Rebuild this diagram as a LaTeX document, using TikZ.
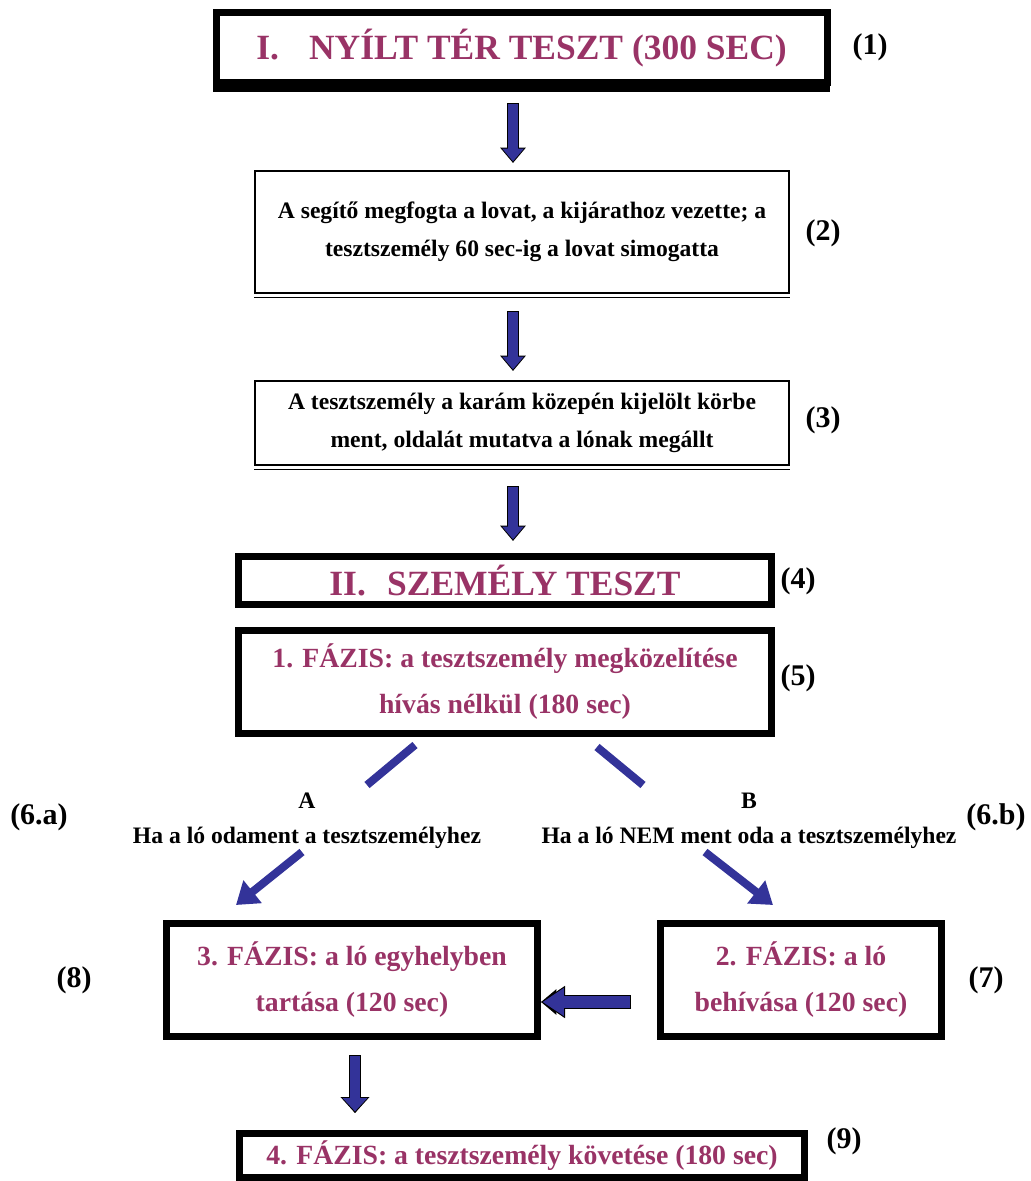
\documentclass[tikz,border=0pt]{standalone}
\usepackage{fontspec}
\setmainfont{Liberation Serif}
\usetikzlibrary{arrows.meta}
\definecolor{maroon}{HTML}{993366}
\definecolor{ablue}{HTML}{333399}
\begin{document}
\begin{tikzpicture}[x=0.75pt,y=-0.75pt,
  thickbox/.style={draw, line width=5.25pt, fill=white, inner sep=0pt, outer sep=0pt, align=center},
  thinbox/.style={draw, line width=1.2pt, fill=white, inner sep=0pt, outer sep=0pt, align=center},
  ttl/.style={font=\fontsize{26.6}{32}\selectfont\bfseries, text=maroon},
  phase/.style={font=\fontsize{20.8}{34.5}\selectfont\bfseries, text=maroon},
  body/.style={font=\fontsize{17.7}{28.9}\selectfont\bfseries},
  lab/.style={font=\fontsize{22.5}{27}\selectfont\bfseries, inner sep=0pt},
  blockarr/.style={ablue, line width=7pt, shorten <=0.8pt, shorten >=1.2pt,
    -{Triangle[length=9.5pt,width=15.5pt]},
    preaction={draw=black, line width=8.6pt, shorten <=0pt, shorten >=0pt,
      -{Triangle[length=11.5pt,width=18.5pt]}}},
  diag/.style={ablue, line width=6pt},
  diagarr/.style={ablue, line width=6pt, -{Triangle[length=16pt,width=21pt]}}
]
\useasboundingbox (0,0) rectangle (1031,1181);

% boxes
\node[thickbox, ttl, minimum width=458.25pt, minimum height=52.5pt] (b1) at (521.5,48)
  {I.\hspace{0.85em}NYÍLT TÉR TESZT (300 SEC)};
\fill ([xshift=-2.25pt]b1.south west) rectangle ([xshift=2.25pt,yshift=-6.75pt]b1.south east);

\node[thinbox, body, minimum width=400.5pt, minimum height=91.5pt] (b2) at (522,232)
  {A segítő megfogta a lovat, a kijárathoz vezette; a\\tesztszemély 60 sec-ig a lovat simogatta};
\draw[line width=1.2pt] ([xshift=-0.6pt,yshift=-3.4pt]b2.south west) -- ([xshift=0.6pt,yshift=-3.4pt]b2.south east);

\node[thinbox, body, minimum width=400.5pt, minimum height=63pt] (b3) at (522,423)
  {A tesztszemély a karám közepén kijelölt körbe\\ment, oldalát mutatva a lónak megállt};
\draw[line width=1.2pt] ([xshift=-0.6pt,yshift=-3.4pt]b3.south west) -- ([xshift=0.6pt,yshift=-3.4pt]b3.south east);

\node[thickbox, ttl, minimum width=399.75pt, minimum height=36pt] (b4) at (505,580.5)
  {II.\hspace{0.6em}SZEMÉLY TESZT};

\node[thickbox, phase, minimum width=399.75pt, minimum height=77.25pt] (b5) at (505,682)
  {1. FÁZIS: a tesztszemély megközelítése\\hívás nélkül (180 sec)};

\node[thickbox, phase, minimum width=278.25pt, minimum height=84.75pt] (b8) at (352,980)
  {3. FÁZIS: a ló egyhelyben\\tartása (120 sec)};

\node[thickbox, phase, minimum width=210.75pt, minimum height=84.75pt] (b7) at (801,980)
  {2. FÁZIS: a ló\\behívása (120 sec)};

\node[thickbox, phase, minimum width=423.75pt, minimum height=33pt] (b9) at (522,1155.5)
  {4. FÁZIS: a tesztszemély követése (180 sec)};

% side labels
\node[lab] (l1) at (870,47) {(1)};
\node[lab] (l2) at (823,233) {(2)};
\node[lab] (l3) at (823,420) {(3)};
\node[lab] (l4) at (798,581) {(4)};
\node[lab] (l5) at (798,678) {(5)};
\node[lab] (l6a) at (39,817) {(6.a)};
\node[lab] (l6b) at (996,817) {(6.b)};
\node[lab] (l8) at (74,980) {(8)};
\node[lab] (l7) at (986,980) {(7)};
\node[lab] (l9) at (844,1141) {(9)};

% branch labels
\node[body, align=center, inner sep=0pt] (ta) at (307,821) {A\\[-3pt]Ha a ló odament a tesztszemélyhez};
\node[body, align=center, inner sep=0pt] (tb) at (749,821) {B\\[-3pt]Ha a ló NEM ment oda a tesztszemélyhez};

% arrows
\coordinate (a1s) at (513,103); \coordinate (a1e) at (513,163);
\coordinate (a2s) at (513,311); \coordinate (a2e) at (513,371);
\coordinate (a3s) at (513,486); \coordinate (a3e) at (513,541);
\coordinate (a4s) at (631,1002); \coordinate (a4e) at (541,1002);
\coordinate (a5s) at (355,1055); \coordinate (a5e) at (355,1113);
\draw[blockarr] (a1s) -- (a1e);
\draw[blockarr] (a2s) -- (a2e);
\draw[blockarr] (a3s) -- (a3e);
\draw[blockarr, line width=9.5pt, -{Triangle[length=16pt,width=20pt]},
  preaction={draw=black, line width=11pt, shorten <=0pt, shorten >=0pt, -{Triangle[length=18pt,width=23pt]}}] (a4s) -- (a4e);
\draw[blockarr, line width=8pt, -{Triangle[length=10pt,width=18pt]},
  preaction={draw=black, line width=9.6pt, shorten <=0pt, shorten >=0pt, -{Triangle[length=12pt,width=21pt]}}] (a5s) -- (a5e);

\coordinate (dl1) at (415,745); \coordinate (dl2) at (367,785);
\coordinate (dr1) at (597,747); \coordinate (dr2) at (643,785);
\coordinate (dl3) at (302,852); \coordinate (dl4) at (236,905);
\coordinate (dr3) at (705,852); \coordinate (dr4) at (773,905);
\draw[diag] (dl1) -- (dl2);
\draw[diag] (dr1) -- (dr2);
\draw[diagarr] (dl3) -- (dl4);
\draw[diagarr] (dr3) -- (dr4);
\end{tikzpicture}
\end{document}
